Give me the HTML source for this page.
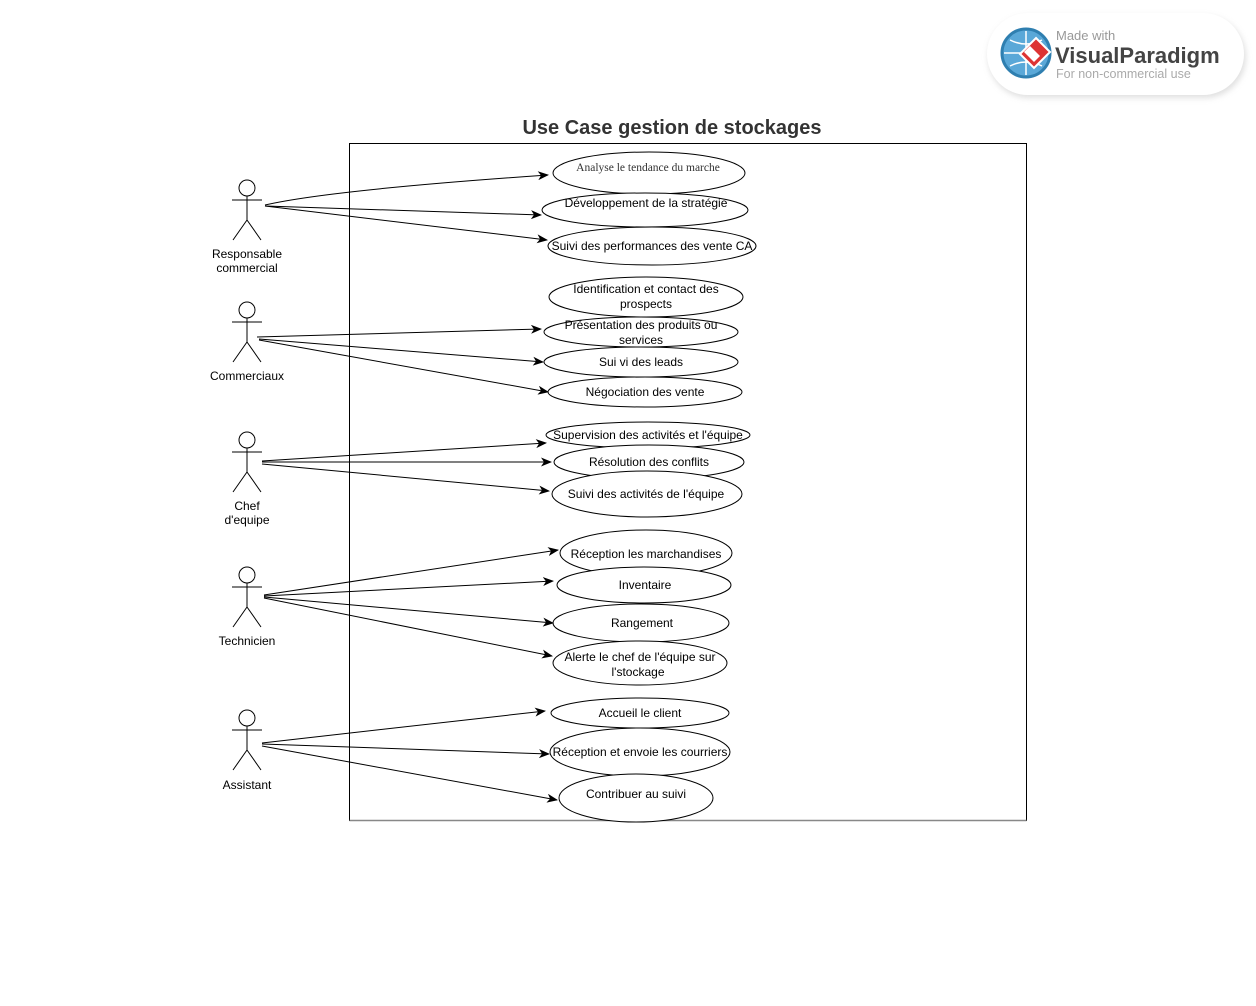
<!DOCTYPE html>
<html><head><meta charset="utf-8"><style>
html,body{margin:0;padding:0;background:#fff;width:1256px;height:1006px;overflow:hidden}
svg{display:block}
.t{font-family:"Liberation Sans",Arial,sans-serif;font-size:12px;fill:#000;text-anchor:middle}
.s{font-family:"Liberation Serif",serif;font-size:11.5px;fill:#333;text-anchor:middle}
</style></head><body>
<svg width="1256" height="1006" viewBox="0 0 1256 1006" xmlns="http://www.w3.org/2000/svg">
<defs>
<marker id="a" markerWidth="11" markerHeight="9" refX="10" refY="4.5" orient="auto" markerUnits="userSpaceOnUse"><path d="M0,0 L11,4.5 L0,9 L3,4.5 Z" fill="#000"/></marker>
<filter id="sh" x="-20%" y="-30%" width="140%" height="160%"><feGaussianBlur stdDeviation="3"/></filter>
</defs>
<rect x="988" y="16" width="258" height="82" rx="41" fill="#ccc" filter="url(#sh)" opacity="0.6"/>
<rect x="987" y="13" width="257" height="82" rx="41" fill="#fff"/>
<circle cx="1026" cy="53" r="24" fill="#5aa8d8" stroke="#2f7fb0" stroke-width="3"/>
<path d="M1004,53 H1048 M1026,31 V75 M1010,40 Q1026,48 1042,40 M1010,66 Q1026,58 1042,66" stroke="#fff" stroke-width="1.5" fill="none"/>
<path d="M1036,38 L1050,52 L1034,68 L1020,54 Z" fill="#d33" stroke="#fff" stroke-width="2"/>
<path d="M1030,46 L1040,56 L1034,62 L1024,52 Z" fill="#fff"/>
<text x="1056" y="40" font-family="Liberation Sans,sans-serif" font-size="13" fill="#999">Made with</text>
<text x="1055" y="63" font-family="Liberation Sans,sans-serif" font-size="22" font-weight="bold" fill="#444">VisualParadigm</text>
<text x="1056" y="78" font-family="Liberation Sans,sans-serif" font-size="12.5" fill="#aaa">For non-commercial use</text>

<text x="672" y="134" font-family="Liberation Sans,sans-serif" font-size="20" font-weight="bold" fill="#333" text-anchor="middle">Use Case gestion de stockages</text>
<rect x="349.5" y="143.5" width="677" height="677" fill="none" stroke="#000" stroke-width="1"/>
<line x1="349.5" y1="820.5" x2="1026.5" y2="820.5" stroke="#888" stroke-width="1.5"/>

<g stroke="#000" stroke-width="1" fill="none">
<g id="act">
<circle cx="247" cy="188" r="8" fill="#fff"/><path d="M232,200 H262 M247,196 V220 L233,240 M247,220 L261,240"/>
</g>
<use href="#act" y="122"/><use href="#act" y="252"/><use href="#act" y="387"/><use href="#act" y="530"/>
</g>
<g class="t">
<text x="247" y="258">Responsable</text><text x="247" y="272">commercial</text>
<text x="247" y="380">Commerciaux</text>
<text x="247" y="510">Chef</text><text x="247" y="524">d'equipe</text>
<text x="247" y="645">Technicien</text>
<text x="247" y="789">Assistant</text>
</g>

<g stroke="#000" stroke-width="1" fill="#fff">
<ellipse cx="649" cy="173" rx="96" ry="21"/>
<ellipse cx="645" cy="210" rx="103" ry="17"/>
<ellipse cx="652" cy="246" rx="104" ry="19"/>
<ellipse cx="646" cy="297" rx="97" ry="20"/>
<ellipse cx="641" cy="332" rx="97" ry="15"/>
<ellipse cx="641" cy="362" rx="97" ry="15"/>
<ellipse cx="645" cy="392" rx="97" ry="15"/>
<ellipse cx="648" cy="435" rx="102" ry="13"/>
<ellipse cx="649" cy="462" rx="95" ry="17"/>
<ellipse cx="647" cy="494" rx="95" ry="23"/>
<ellipse cx="646" cy="553" rx="86" ry="23"/>
<ellipse cx="644" cy="585" rx="87" ry="18"/>
<ellipse cx="641" cy="623" rx="88" ry="19"/>
<ellipse cx="640" cy="663" rx="87" ry="22"/>
<ellipse cx="640" cy="713" rx="89" ry="15"/>
<ellipse cx="640" cy="752" rx="90" ry="24"/>
<ellipse cx="636" cy="798" rx="77" ry="24"/>
</g>
<text class="s" x="648" y="171">Analyse le tendance du marche</text>
<g class="t">
<text x="646" y="207">Développement de la stratégie</text>
<text x="652" y="250">Suivi des performances des vente CA</text>
<text x="646" y="293">Identification et contact des</text><text x="646" y="308">prospects</text>
<text x="641" y="329">Présentation des produits ou</text><text x="641" y="344">services</text>
<text x="641" y="366">Sui vi des leads</text>
<text x="645" y="396">Négociation des vente</text>
<text x="648" y="439">Supervision des activités et l'équipe</text>
<text x="649" y="466">Résolution des conflits</text>
<text x="646" y="498">Suivi des activités de l'équipe</text>
<text x="646" y="558">Réception les marchandises</text>
<text x="645" y="589">Inventaire</text>
<text x="642" y="627">Rangement</text>
<text x="640" y="661">Alerte le chef de l'équipe sur</text><text x="638" y="676">l'stockage</text>
<text x="640" y="717">Accueil le client</text>
<text x="640" y="756">Réception et envoie les courriers</text>
<text x="636" y="798">Contribuer au suivi</text>
</g>

<g stroke="#000" stroke-width="1" fill="none" marker-end="url(#a)">
<path d="M265,205 Q330,190 548,175"/>
<path d="M265,206 L541,215"/>
<path d="M265,206 L547,240"/>
<path d="M257,337 L541,329"/>
<path d="M259,339 L543,362"/>
<path d="M259,340 L548,392"/>
<path d="M262,461 L546,443"/>
<path d="M262,462 L551,462"/>
<path d="M262,464 L549,491"/>
<path d="M264,595 L558,550"/>
<path d="M264,596 L553,581"/>
<path d="M264,597 L553,623"/>
<path d="M264,598 L552,656"/>
<path d="M262,743 L545,711"/>
<path d="M262,744 L549,754"/>
<path d="M262,746 L557,800"/>
</g>
</svg>
</body></html>
